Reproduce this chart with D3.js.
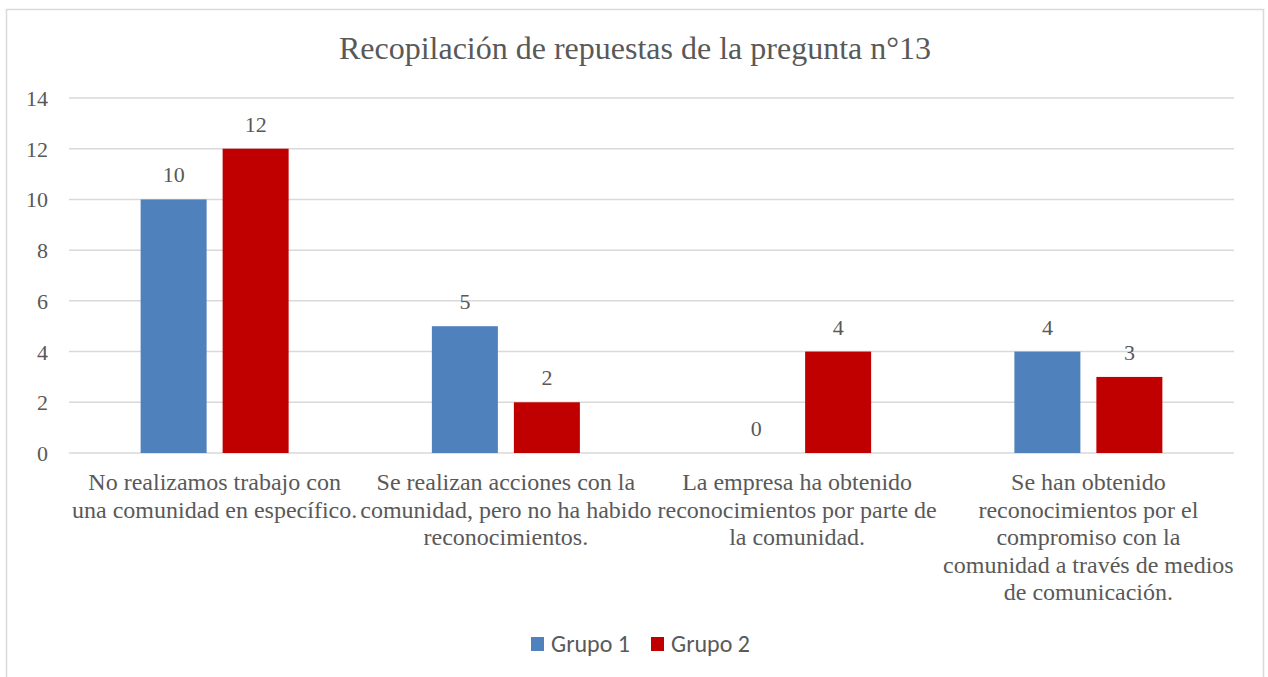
<!DOCTYPE html>
<html>
<head>
<meta charset="utf-8">
<script src="https://cdn.jsdelivr.net/npm/d3@7"></script>
<style>
  body { margin: 0; background: #fff; }
  text { fill: #595959; }
</style>
</head>
<body>
<div id="chart"></div>
<script>
// data
var categories = [
    ['No realizamos trabajo con', 'una comunidad en específico.'],
    ['Se realizan acciones con la', 'comunidad, pero no ha habido', 'reconocimientos.'],
    ['La empresa ha obtenido', 'reconocimientos por parte de', 'la comunidad.'],
    ['Se han obtenido', 'reconocimientos por el', 'compromiso con la', 'comunidad a través de medios', 'de comunicación.']
];
var seriesNames = ['Grupo 1', 'Grupo 2'];
var grupo1 = [10, 5, 0, 4];
var grupo2 = [12, 2, 4, 3];
var yTicks = [0, 2, 4, 6, 8, 10, 12, 14];
var colors = ['#4f81bd', '#c00000'];

(function () {
    const W = 1268, H = 677,
        left = 69, right = 1234, top = 98, bottom = 453,
        SERIF = '"Liberation Serif", "Times New Roman", serif',
        SANS = '"Carlito", "Open Sans", sans-serif';

    var svg = d3.select('#chart').append('svg')
        .attr('width', W)
        .attr('height', H);

    svg.append('rect')
        .attr('x', 6.5).attr('y', 9.5)
        .attr('width', 1257).attr('height', 700)
        .attr('fill', '#fff')
        .attr('stroke', '#d9d9d9')
        .attr('stroke-width', 1.5);

    svg.append('text')
        .style('font-family', SERIF)
        .attr('x', 635).attr('y', 59)
        .attr('text-anchor', 'middle')
        .style('font-size', '32px')
        .text('Recopilación de repuestas de la pregunta n°13');

    var x = d3.scaleBand()
        .domain(d3.range(categories.length))
        .range([left, right]);

    var y = d3.scaleLinear()
        .domain([0, 14])
        .range([bottom, top]);

    var inner = d3.scaleBand()
        .domain(d3.range(seriesNames.length))
        .range([x.bandwidth() / 2 - 74, x.bandwidth() / 2 + 74])
        .paddingInner(16 / 82);

    // gridlines
    svg.append('g')
        .selectAll('line')
        .data(yTicks)
        .join('line')
        .attr('x1', left).attr('x2', right)
        .attr('y1', d => y(d)).attr('y2', d => y(d))
        .attr('stroke', '#d9d9d9')
        .attr('stroke-width', 1.5);

    // y axis labels
    var yAxis = svg.append('g')
        .attr('transform', `translate(${left - 21},0)`)
        .call(d3.axisLeft(y).tickValues(yTicks).tickSize(0).tickPadding(0));
    yAxis.select('.domain').remove();
    yAxis.attr('font-family', null).attr('font-size', null);
    yAxis.selectAll('text')
        .style('font-family', SERIF)
        .attr('fill', '#595959')
        .attr('dy', '0.34em')
        .style('font-size', '22px');

    var series = [grupo1, grupo2];

    series.forEach(function (vals, s) {
        var g = svg.append('g');
        g.selectAll('rect')
            .data(vals)
            .join('rect')
            .attr('x', (d, i) => x(i) + inner(s))
            .attr('y', d => y(d))
            .attr('width', inner.bandwidth())
            .attr('height', d => y(0) - y(d))
            .attr('fill', colors[s]);
        g.selectAll('text')
            .data(vals)
            .join('text')
            .style('font-family', SERIF)
            .attr('x', (d, i) => x(i) + inner(s) + inner.bandwidth() / 2)
            .attr('y', d => y(d) - 17)
            .attr('text-anchor', 'middle')
            .style('font-size', '22px')
            .text(d => d);
    });

    // category labels
    var cat = svg.append('g')
        .selectAll('text')
        .data(categories)
        .join('text')
        .style('font-family', SERIF)
        .attr('text-anchor', 'middle')
        .style('font-size', '24px')
        .attr('x', (d, i) => x(i) + x.bandwidth() / 2)
        .attr('y', 490);
    cat.selectAll('tspan')
        .data((d, i) => d.map(t => ({ t: t, i: i })))
        .join('tspan')
        .attr('x', d => x(d.i) + x.bandwidth() / 2)
        .attr('dy', (d, j) => j ? 27.5 : 0)
        .text(d => d.t);

    // legend
    var legend = svg.append('g')
        .selectAll('g')
        .data(seriesNames)
        .join('g')
        .attr('transform', (d, i) => `translate(${531 + i * 120},637)`);
    legend.append('rect')
        .attr('width', 13).attr('height', 14)
        .attr('fill', (d, i) => colors[i]);
    legend.append('text')
        .style('font-family', SANS)
        .attr('x', 20).attr('y', 15)
        .style('font-size', '24px')
        .text(d => d);
})();
</script>
</body>
</html>
